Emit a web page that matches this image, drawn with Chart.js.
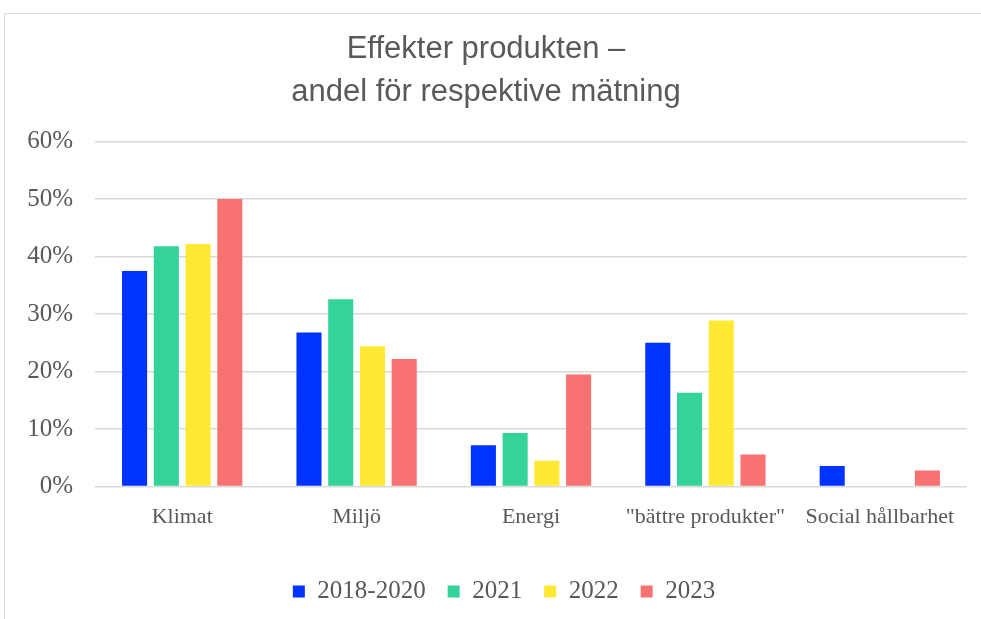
<!DOCTYPE html>
<html>
<head>
<meta charset="utf-8">
<script src="https://cdn.jsdelivr.net/npm/chart.js@4"></script>
<style>
  html, body { margin: 0; padding: 0; background: #fff; }
  #frame {
    position: absolute; left: 4px; top: 13px; width: 976px; height: 605px;
    border-top: 1px solid #d9d9d9; border-left: 1px solid #d9d9d9;
  }
  #chart { display: block; }
</style>
</head>
<body>
<div id="frame"><canvas id="chart" width="976" height="605"></canvas></div>
<script>
const categories = ['Klimat', 'Miljö', 'Energi', '"bättre produkter"', 'Social hållbarhet'];
const seriesNames = ['2018-2020', '2021', '2022', '2023'];
const v2018_2020 = [37.5, 26.8, 7.2, 25.0, 3.6];
const v2021 = [41.8, 32.6, 9.3, 16.3, 0];
const v2022 = [42.2, 24.4, 4.5, 28.9, 0];
const v2023 = [50.0, 22.2, 19.5, 5.6, 2.8];
const colors = ['#0033ff', '#33d399', '#ffe933', '#f87272'];
const yTicks = [0, 10, 20, 30, 40, 50, 60];

const textGray = '#595959';
const values = [v2018_2020, v2021, v2022, v2023];

// nudge the legend a bit to the right of the canvas centre
const legendShift = {
  id: 'legendShift',
  afterLayout(chart) {
    chart.legend.left += 18;
    chart.legend.right += 18;
  }
};

const chart = new Chart(document.getElementById('chart'), {
  type: 'bar',
  data: {
    labels: categories,
    datasets: seriesNames.map((name, i) => ({
      label: name,
      data: values[i],
      backgroundColor: colors[i],
      borderWidth: 0,
      categoryPercentage: 0.728,
      barPercentage: 0.79
    }))
  },
  plugins: [legendShift],
  options: {
    responsive: false,
    animation: false,
    layout: { padding: { left: 0, right: 14, top: 0, bottom: 5 } },
    plugins: {
      tooltip: { enabled: false },
      title: {
        display: true,
        text: ['Effekter produkten –', 'andel för respektive mätning'],
        color: textGray,
        font: { family: 'Liberation Sans', size: 31, weight: 'normal', lineHeight: 1.38 },
        padding: { top: 14, bottom: 28 }
      },
      legend: {
        position: 'bottom',
        labels: {
          color: textGray,
          boxWidth: 12,
          boxHeight: 12,
          padding: 22,
          font: { family: 'Liberation Serif', size: 25 }
        }
      }
    },
    scales: {
      x: {
        grid: { display: false },
        border: { display: false },
        afterFit: (scale) => { scale.height += 18; },
        ticks: {
          color: textGray,
          padding: 9,
          maxRotation: 0,
          font: { family: 'Liberation Serif', size: 22 }
        }
      },
      y: {
        min: 0,
        max: 60,
        afterFit: (scale) => { scale.width = 90; },
        afterBuildTicks: (scale) => { scale.ticks = yTicks.map(v => ({ value: v })); },
        grid: { color: '#d9d9d9', lineWidth: 1.5, drawTicks: false },
        border: { display: false },
        ticks: {
          color: textGray,
          padding: 22,
          font: { family: 'Liberation Serif', size: 25 },
          callback: (v) => v + '%'
        }
      }
    }
  }
});
</script>
</body>
</html>
